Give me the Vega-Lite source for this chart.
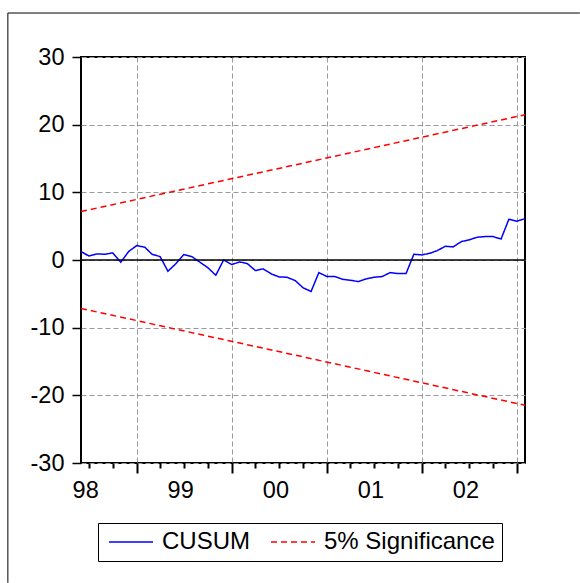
{
  "$schema": "https://vega.github.io/schema/vega-lite/v6.json",
  "width": 444,
  "height": 406,
  "autosize": {"type": "none"},
  "padding": {"left": 81, "top": 57, "right": 55, "bottom": 120},
  "background": "white",
  "config": {
    "font": "Liberation Sans",
    "view": {"stroke": "black", "strokeWidth": 2},
    "axis": {"labelFont": "Liberation Sans", "labelFontSize": 23.5, "labelColor": "black", "titleFontSize": 0},
    "legend": {
      "orient": "none",
      "legendX": 17,
      "legendY": 466,
      "direction": "horizontal",
      "symbolType": "M-0.727,0H3.273",
      "symbolSize": 484,
      "symbolStrokeWidth": 1.5,
      "labelFont": "Liberation Sans",
      "labelFontSize": 24,
      "labelColor": "black",
      "labelLimit": 400,
      "strokeColor": "black",
      "padding": 7,
      "columnPadding": 17,
      "labelOffset": 33
    }
  },
  "datasets": {
    "lines": [
      {"date": "1998-06-01", "value": 1.25, "series": "CUSUM", "band": "cusum"},
      {"date": "1998-07-01", "value": 0.6, "series": "CUSUM", "band": "cusum"},
      {"date": "1998-08-01", "value": 0.9, "series": "CUSUM", "band": "cusum"},
      {"date": "1998-09-01", "value": 0.85, "series": "CUSUM", "band": "cusum"},
      {"date": "1998-10-01", "value": 1.05, "series": "CUSUM", "band": "cusum"},
      {"date": "1998-11-01", "value": -0.33, "series": "CUSUM", "band": "cusum"},
      {"date": "1998-12-01", "value": 1.25, "series": "CUSUM", "band": "cusum"},
      {"date": "1999-01-01", "value": 2.13, "series": "CUSUM", "band": "cusum"},
      {"date": "1999-02-01", "value": 1.89, "series": "CUSUM", "band": "cusum"},
      {"date": "1999-03-01", "value": 0.85, "series": "CUSUM", "band": "cusum"},
      {"date": "1999-04-01", "value": 0.5, "series": "CUSUM", "band": "cusum"},
      {"date": "1999-05-01", "value": -1.66, "series": "CUSUM", "band": "cusum"},
      {"date": "1999-06-01", "value": -0.53, "series": "CUSUM", "band": "cusum"},
      {"date": "1999-07-01", "value": 0.8, "series": "CUSUM", "band": "cusum"},
      {"date": "1999-08-01", "value": 0.5, "series": "CUSUM", "band": "cusum"},
      {"date": "1999-09-01", "value": -0.33, "series": "CUSUM", "band": "cusum"},
      {"date": "1999-10-01", "value": -1.12, "series": "CUSUM", "band": "cusum"},
      {"date": "1999-11-01", "value": -2.25, "series": "CUSUM", "band": "cusum"},
      {"date": "1999-12-01", "value": 0.0, "series": "CUSUM", "band": "cusum"},
      {"date": "2000-01-01", "value": -0.67, "series": "CUSUM", "band": "cusum"},
      {"date": "2000-02-01", "value": -0.28, "series": "CUSUM", "band": "cusum"},
      {"date": "2000-03-01", "value": -0.53, "series": "CUSUM", "band": "cusum"},
      {"date": "2000-04-01", "value": -1.56, "series": "CUSUM", "band": "cusum"},
      {"date": "2000-05-01", "value": -1.31, "series": "CUSUM", "band": "cusum"},
      {"date": "2000-06-01", "value": -2.05, "series": "CUSUM", "band": "cusum"},
      {"date": "2000-07-01", "value": -2.5, "series": "CUSUM", "band": "cusum"},
      {"date": "2000-08-01", "value": -2.55, "series": "CUSUM", "band": "cusum"},
      {"date": "2000-09-01", "value": -3.04, "series": "CUSUM", "band": "cusum"},
      {"date": "2000-10-01", "value": -4.1, "series": "CUSUM", "band": "cusum"},
      {"date": "2000-11-01", "value": -4.65, "series": "CUSUM", "band": "cusum"},
      {"date": "2000-12-01", "value": -1.86, "series": "CUSUM", "band": "cusum"},
      {"date": "2001-01-01", "value": -2.45, "series": "CUSUM", "band": "cusum"},
      {"date": "2001-02-01", "value": -2.45, "series": "CUSUM", "band": "cusum"},
      {"date": "2001-03-01", "value": -2.84, "series": "CUSUM", "band": "cusum"},
      {"date": "2001-04-01", "value": -2.99, "series": "CUSUM", "band": "cusum"},
      {"date": "2001-05-01", "value": -3.19, "series": "CUSUM", "band": "cusum"},
      {"date": "2001-06-01", "value": -2.79, "series": "CUSUM", "band": "cusum"},
      {"date": "2001-07-01", "value": -2.55, "series": "CUSUM", "band": "cusum"},
      {"date": "2001-08-01", "value": -2.45, "series": "CUSUM", "band": "cusum"},
      {"date": "2001-09-01", "value": -1.86, "series": "CUSUM", "band": "cusum"},
      {"date": "2001-10-01", "value": -2.0, "series": "CUSUM", "band": "cusum"},
      {"date": "2001-11-01", "value": -2.0, "series": "CUSUM", "band": "cusum"},
      {"date": "2001-12-01", "value": 0.85, "series": "CUSUM", "band": "cusum"},
      {"date": "2002-01-01", "value": 0.75, "series": "CUSUM", "band": "cusum"},
      {"date": "2002-02-01", "value": 1.0, "series": "CUSUM", "band": "cusum"},
      {"date": "2002-03-01", "value": 1.39, "series": "CUSUM", "band": "cusum"},
      {"date": "2002-04-01", "value": 2.03, "series": "CUSUM", "band": "cusum"},
      {"date": "2002-05-01", "value": 1.93, "series": "CUSUM", "band": "cusum"},
      {"date": "2002-06-01", "value": 2.72, "series": "CUSUM", "band": "cusum"},
      {"date": "2002-07-01", "value": 2.97, "series": "CUSUM", "band": "cusum"},
      {"date": "2002-08-01", "value": 3.36, "series": "CUSUM", "band": "cusum"},
      {"date": "2002-09-01", "value": 3.46, "series": "CUSUM", "band": "cusum"},
      {"date": "2002-10-01", "value": 3.46, "series": "CUSUM", "band": "cusum"},
      {"date": "2002-11-01", "value": 3.1, "series": "CUSUM", "band": "cusum"},
      {"date": "2002-12-01", "value": 6.02, "series": "CUSUM", "band": "cusum"},
      {"date": "2003-01-01", "value": 5.73, "series": "CUSUM", "band": "cusum"},
      {"date": "2003-02-01", "value": 6.12, "series": "CUSUM", "band": "cusum"},
      {"date": "1998-06-01", "value": 7.16, "series": "5% Significance", "band": "upper"},
      {"date": "2003-02-01", "value": 21.47, "series": "5% Significance", "band": "upper"},
      {"date": "1998-06-01", "value": -7.16, "series": "5% Significance", "band": "lower"},
      {"date": "2003-02-01", "value": -21.47, "series": "5% Significance", "band": "lower"}
    ]
  },
  "layer": [
    {
      "data": {"name": "lines"},
      "mark": {"type": "line", "strokeWidth": 1.5},
      "encoding": {
        "x": {
          "field": "date", "type": "temporal",
          "scale": {"type": "utc", "domain": [{"year": 1998, "month": 6, "date": 1, "utc": true}, {"year": 2003, "month": 2, "date": 1, "utc": true}]},
          "title": null,
          "axis": {
            "orient": "bottom",
            "values": [
              {"year": 1999, "month": 1, "date": 1, "utc": true},
              {"year": 2000, "month": 1, "date": 1, "utc": true},
              {"year": 2001, "month": 1, "date": 1, "utc": true},
              {"year": 2002, "month": 1, "date": 1, "utc": true},
              {"year": 2003, "month": 1, "date": 1, "utc": true}
            ],
            "labels": false, "domain": false,
            "ticks": true, "tickSize": 10, "tickWidth": 2, "tickColor": "black",
            "grid": true, "gridDash": [5, 3], "gridColor": "#999999", "gridWidth": 1
          }
        },
        "y": {
          "field": "value", "type": "quantitative",
          "scale": {"domain": [-30, 30], "nice": false, "zero": false},
          "title": null,
          "axis": {
            "orient": "left", "values": [-30, -20, -10, 0, 10, 20, 30],
            "labelExpr": "datum.value < 0 ? '-' + abs(datum.value) : '' + datum.value",
            "domain": false, "tickSize": 9, "tickWidth": 1.5, "tickColor": "black",
            "labelPadding": 8, "labelFontSize": 23.5, "labelColor": "black",
            "grid": true, "gridDash": [5, 3], "gridColor": "#999999", "gridWidth": 1
          }
        },
        "color": {
          "field": "series", "type": "nominal",
          "scale": {"domain": ["CUSUM", "5% Significance"], "range": ["#0000FF", "#FF0000"]},
          "title": null
        },
        "strokeDash": {
          "field": "series", "type": "nominal",
          "scale": {"domain": ["CUSUM", "5% Significance"], "range": [[1, 0], [6, 4]]},
          "title": null
        },
        "detail": {"field": "band", "type": "nominal"}
      }
    },
    {
      "data": {"values": [{}]},
      "mark": {"type": "rule", "color": "black", "strokeWidth": 1.5},
      "encoding": {
        "x": {
          "datum": {"year": 1998, "month": 6, "date": 1, "utc": true}, "type": "temporal",
          "scale": {"type": "utc", "domain": [{"year": 1998, "month": 6, "date": 1, "utc": true}, {"year": 2003, "month": 2, "date": 1, "utc": true}]},
          "title": null,
          "axis": {
            "orient": "bottom",
            "values": [
              {"year": 1998, "month": 7, "date": 1, "utc": true},
              {"year": 1998, "month": 10, "date": 1, "utc": true},
              {"year": 1999, "month": 4, "date": 1, "utc": true},
              {"year": 1999, "month": 7, "date": 1, "utc": true},
              {"year": 1999, "month": 10, "date": 1, "utc": true},
              {"year": 2000, "month": 4, "date": 1, "utc": true},
              {"year": 2000, "month": 7, "date": 1, "utc": true},
              {"year": 2000, "month": 10, "date": 1, "utc": true},
              {"year": 2001, "month": 4, "date": 1, "utc": true},
              {"year": 2001, "month": 7, "date": 1, "utc": true},
              {"year": 2001, "month": 10, "date": 1, "utc": true},
              {"year": 2002, "month": 4, "date": 1, "utc": true},
              {"year": 2002, "month": 7, "date": 1, "utc": true},
              {"year": 2002, "month": 10, "date": 1, "utc": true}
            ],
            "labels": false, "domain": false, "grid": false,
            "ticks": true, "tickSize": 5, "tickWidth": 2, "tickColor": "black"
          }
        },
        "x2": {"datum": {"year": 2003, "month": 2, "date": 1, "utc": true}},
        "y": {
          "datum": 0, "type": "quantitative",
          "scale": {"domain": [-30, 30], "nice": false, "zero": false},
          "title": null,
          "axis": {
            "orient": "left", "values": [-30, -20, -10, 0, 10, 20, 30],
            "labelExpr": "datum.value < 0 ? '-' + abs(datum.value) : '' + datum.value",
            "domain": false, "tickSize": 9, "tickWidth": 1.5, "tickColor": "black",
            "labelPadding": 8, "labelFontSize": 23.5, "labelColor": "black",
            "grid": true, "gridDash": [5, 3], "gridColor": "#999999", "gridWidth": 1
          }
        }
      }
    },
    {
      "data": {"values": [{}]},
      "mark": {"type": "rule", "color": "black", "strokeWidth": 1},
      "encoding": {
        "x": {
          "datum": {"year": 1997, "month": 8, "date": 24, "utc": true}, "type": "temporal",
          "scale": {"type": "utc", "domain": [{"year": 1998, "month": 6, "date": 1, "utc": true}, {"year": 2003, "month": 2, "date": 1, "utc": true}]},
          "title": null,
          "axis": {
            "orient": "bottom",
            "values": [
              {"year": 1998, "month": 6, "date": 17, "utc": true},
              {"year": 1999, "month": 6, "date": 17, "utc": true},
              {"year": 2000, "month": 6, "date": 17, "utc": true},
              {"year": 2001, "month": 6, "date": 17, "utc": true},
              {"year": 2002, "month": 6, "date": 17, "utc": true}
            ],
            "labelExpr": "utcFormat(datum.value, '%y')",
            "labels": true, "domain": false, "grid": false, "ticks": false,
            "labelPadding": 15, "labelFontSize": 23.5, "labelColor": "black"
          }
        },
        "x2": {"datum": {"year": 2003, "month": 8, "date": 31, "utc": true}},
        "y": {
          "datum": 36.5, "type": "quantitative",
          "scale": {"domain": [-30, 30], "nice": false, "zero": false},
          "title": null,
          "axis": {
            "orient": "left", "values": [-30, -20, -10, 0, 10, 20, 30],
            "labelExpr": "datum.value < 0 ? '-' + abs(datum.value) : '' + datum.value",
            "domain": false, "tickSize": 9, "tickWidth": 1.5, "tickColor": "black",
            "labelPadding": 8, "labelFontSize": 23.5, "labelColor": "black",
            "grid": true, "gridDash": [5, 3], "gridColor": "#999999", "gridWidth": 1
          }
        }
      }
    },
    {
      "data": {"values": [{}]},
      "mark": {"type": "rule", "color": "black", "strokeWidth": 1},
      "encoding": {
        "x": {
          "datum": {"year": 1997, "month": 8, "date": 24, "utc": true}, "type": "temporal",
          "scale": {"type": "utc", "domain": [{"year": 1998, "month": 6, "date": 1, "utc": true}, {"year": 2003, "month": 2, "date": 1, "utc": true}]},
          "axis": null
        },
        "y": {
          "datum": 36.5, "type": "quantitative",
          "scale": {"domain": [-30, 30], "nice": false, "zero": false},
          "title": null,
          "axis": {
            "orient": "left", "values": [-30, -20, -10, 0, 10, 20, 30],
            "labelExpr": "datum.value < 0 ? '-' + abs(datum.value) : '' + datum.value",
            "domain": false, "tickSize": 9, "tickWidth": 1.5, "tickColor": "black",
            "labelPadding": 8, "labelFontSize": 23.5, "labelColor": "black",
            "grid": true, "gridDash": [5, 3], "gridColor": "#999999", "gridWidth": 1
          }
        },
        "y2": {"datum": -47.7}
      }
    }
  ],
  "resolve": {"axis": {"x": "independent"}}
}
